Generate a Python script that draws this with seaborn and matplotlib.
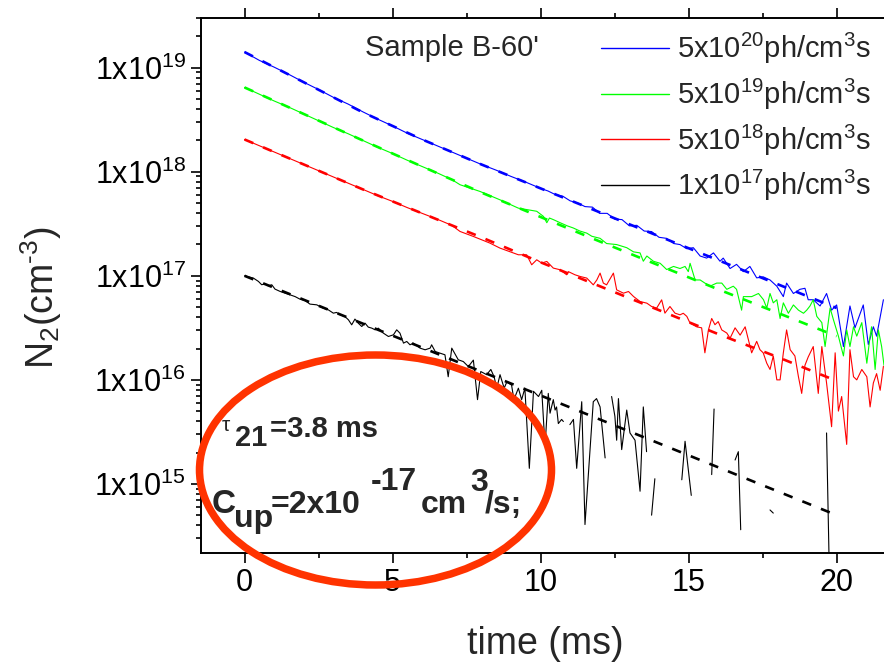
import numpy as np
import pandas as pd
import matplotlib
matplotlib.use("Agg")
import matplotlib.pyplot as plt
import seaborn as sns
from matplotlib.patches import Ellipse
from matplotlib.ticker import MultipleLocator, LogLocator, FuncFormatter, NullFormatter, FixedLocator

# ---------------- data (log10 of N2 in cm^-3, time in ms) ----------------
series_labels = [r"5x10$^{20}$ph/cm$^{3}$s", r"5x10$^{19}$ph/cm$^{3}$s",
                 r"5x10$^{18}$ph/cm$^{3}$s", r"1x10$^{17}$ph/cm$^{3}$s"]
series_colors = ["#0000ff", "#00ff00", "#ff0000", "#000000"]

blue_t = [0, 0.5, 1, 1.5, 2, 2.5, 3, 3.5, 4, 4.5, 5, 5.5, 6, 6.5, 7, 7.5, 8, 8.5, 9, 9.5, 10,
          10.25, 10.5, 10.75, 11, 11.25, 11.5, 11.75, 12, 12.25, 12.5, 12.75, 13, 13.25, 13.5, 13.75, 14, 14.25, 14.5,
          14.71, 14.94, 15.16, 15.39, 15.61, 15.84, 16.06, 16.17, 16.40, 16.62,
          16.85, 17.07, 17.30, 17.52, 17.75, 17.98, 18.20, 18.31, 18.54, 18.76,
          18.93, 19.04, 19.21, 19.44, 19.66, 19.83, 20.00, 20.23, 20.45, 20.62,
          20.90, 21.07, 21.24, 21.35, 21.58]
blue_log = [19.15, 19.07, 19.005, 18.935, 18.86, 18.79, 18.715, 18.65, 18.575, 18.505, 18.44, 18.37, 18.31, 18.25,
            18.19, 18.13, 18.07, 18.015, 17.955, 17.90, 17.84,
            17.815, 17.78, 17.765, 17.72, 17.70, 17.665, 17.66, 17.60, 17.60, 17.545, 17.54, 17.48, 17.485, 17.43,
            17.425, 17.37, 17.36, 17.31,
            17.30, 17.26, 17.27, 17.19, 17.17, 17.22, 17.14, 17.17, 17.07, 17.11,
            17.04, 17.09, 16.98, 16.99, 16.96, 16.90, 16.80, 16.93, 16.83, 16.87,
            16.88, 16.77, 16.77, 16.71, 16.83, 16.67, 16.72, 16.32, 16.71, 16.50,
            16.72, 16.34, 16.51, 16.42, 16.77]

green_t = [0, 0.5, 1, 1.5, 2, 2.5, 3, 3.5, 4, 4.5, 5, 5.5, 6, 6.5, 7,
           7.28, 7.96, 8.63, 9.25, 9.87, 10.10, 10.21, 10.30, 10.43, 10.66, 10.9, 11.1, 11.33, 11.56, 11.73,
           12.01, 12.23, 12.57, 12.91, 13.14, 13.36, 13.47, 13.59, 13.81, 14.04, 14.26, 14.49,
           14.71, 14.88, 14.99, 15.05, 15.22, 15.39, 15.55, 15.72, 15.95, 16.12,
           16.29, 16.51, 16.62, 16.79, 16.85, 16.96, 17.13, 17.36, 17.53, 17.64,
           17.75, 17.86, 17.98, 18.09, 18.20, 18.37, 18.54, 18.71, 18.88, 18.99,
           19.10, 19.21, 19.33, 19.50, 19.61, 19.78, 19.89, 20.06, 20.23, 20.34,
           20.45, 20.57, 20.68, 20.85, 21.02, 21.13, 21.18, 21.30, 21.41, 21.52, 21.60]
green_log = [18.81, 18.745, 18.68, 18.62, 18.555, 18.49, 18.425, 18.365, 18.30, 18.235, 18.175, 18.11, 18.05,
             17.99, 17.925,
             17.875, 17.81, 17.73, 17.65, 17.62, 17.57, 17.51, 17.555, 17.54, 17.51, 17.48, 17.46, 17.43, 17.41,
             17.38, 17.36, 17.31, 17.30, 17.27, 17.23, 17.22, 17.14, 17.19, 17.14, 17.12, 17.06, 17.09,
             17.07, 17.09, 17.04, 17.12, 16.96, 16.96, 16.93, 16.90, 16.93, 16.93,
             16.87, 16.90, 16.87, 16.67, 16.80, 16.80, 16.80, 16.83, 16.77, 16.69,
             16.83, 16.74, 16.77, 16.59, 16.74, 16.64, 16.72, 16.67, 16.64, 16.67,
             16.71, 16.77, 16.61, 16.55, 16.32, 16.69, 16.58, 16.42, 16.23, 16.48,
             16.32, 16.51, 16.42, 16.55, 16.16, 16.42, 16.51, 16.10, 16.48, 16.32, 16.14]

red_t = [0, 0.5, 1, 1.5, 2, 2.5, 3, 3.5, 4, 4.5, 5, 5.5, 6, 6.5, 7,
         7.28, 7.73, 8.29, 8.63, 9.25, 9.53, 9.70, 9.87, 10.04, 10.21, 10.43, 10.66, 10.88, 10.94, 11.16,
         11.33, 11.56, 11.78, 11.90, 12.01, 12.12, 12.23, 12.46, 12.57, 12.80, 12.97, 13.14, 13.36, 13.59,
         13.75, 13.92, 14.09, 14.20, 14.37, 14.54,
         14.71, 14.82, 14.94, 15.05, 15.27, 15.44, 15.55, 15.67, 15.78, 15.89,
         16.00, 16.12, 16.29, 16.40, 16.57, 16.74, 16.91, 17.02, 17.13, 17.30,
         17.41, 17.52, 17.64, 17.75, 17.86, 17.98, 18.09, 18.20, 18.31, 18.43,
         18.59, 18.71, 18.82, 18.93, 19.04, 19.21, 19.38, 19.50, 19.66, 19.83,
         19.95, 20.06, 20.17, 20.34, 20.45, 20.57, 20.68, 20.85, 21.02, 21.13,
         21.24, 21.35, 21.47, 21.58]
red_log = [18.31, 18.25, 18.19, 18.13, 18.07, 18.01, 17.95, 17.89, 17.83, 17.77, 17.715, 17.655, 17.60, 17.545,
           17.485,
           17.426, 17.378, 17.314, 17.266, 17.202, 17.202, 17.106, 17.154, 17.122, 17.138, 17.074, 17.058, 17.01,
           17.04, 17.01, 16.994, 16.978, 16.913, 16.96, 17.026, 16.93, 16.913, 17.026, 16.865, 16.833, 16.849,
           16.801, 16.753, 16.737, 16.705, 16.689, 16.769, 16.641, 16.705, 16.641,
           16.625, 16.64, 16.61, 16.545, 16.51, 16.50, 16.26, 16.48, 16.59, 16.53,
           16.56, 16.48, 16.45, 16.40, 16.50, 16.43, 16.51, 16.385, 16.26, 16.37,
           16.29, 16.26, 16.16, 16.10, 16.23, 16.00, 16.00, 16.26, 16.48, 16.29,
           16.23, 16.03, 15.87, 16.14, 16.22, 16.32, 15.87, 16.32, 15.97, 15.55,
           16.26, 15.70, 15.84, 15.38, 16.29, 16.03, 16.00, 16.10, 16.03, 15.74,
           15.97, 16.06, 15.90, 16.13]

nan = float("nan")
black_t = [0.00, 0.30, 0.47, 0.58, 0.69, 0.80, 0.92, 1.03, 1.20, 1.37, 1.54, 1.71, 1.87, 2.04, 2.21, 2.44,
           2.66, 2.83, 3.00, 3.11, 3.23, 3.39, 3.51, 3.62, 3.73, 3.84, 3.96, 4.07, 4.18, 4.30, 4.41, 4.52,
           4.69, 4.86, 5.03, 5.14, 5.25, 5.37, 5.48, 5.59, 5.70, 5.93, 6.10, 6.27, 6.32, 6.44, 6.60, 6.77,
           6.88, 7.00, 7.22, 7.39, 7.56, 7.73, 7.87, 7.98, 8.18, 8.32, 8.43, 8.52, 8.63, 8.77, 8.86, 9.02,
           9.10, 9.25, 9.36, 9.47, 9.62, 9.76, 9.93,
           10.04, 10.15, 10.26, 10.32, 10.43, 10.49, 10.54, 10.60, 10.71, 10.77, 10.88, 10.99, 11.11, 11.22,
           11.39, 11.50, 11.78, 11.89, 12.01, 12.18, 12.30, 12.40, 12.51, 12.57, 12.63, 12.74, 12.91, 13.02,
           13.19, 13.36, 13.47, 13.58, 13.68, 13.75, 13.86, 14.00, 14.77, 14.88, 15.09, 15.20, 15.78, 15.86,
           16.00, 16.57, 16.68, 16.76, 16.90, 17.75, 17.86, 18.00, 19.66, 19.75]
black_log = [17.00, 16.978, 16.946, 16.914, 16.923, 16.904, 16.914, 16.872, 16.85, 16.833, 16.817, 16.80,
             16.776, 16.763, 16.728, 16.721, 16.689, 16.673, 16.641, 16.648, 16.625, 16.609, 16.577, 16.529,
             16.584, 16.545, 16.513, 16.545, 16.507, 16.497, 16.481, 16.497, 16.449, 16.417, 16.433, 16.481,
             16.449, 16.353, 16.369, 16.337, 16.353, 16.305, 16.289, 16.305, 16.337, 16.273, 16.257, 16.241,
             16.03, 16.305, 16.193, 16.176, 16.128, 16.19, 15.81, 16.08, 16.05, 16.10, 16.03, 15.92, 16.05,
             15.92, 15.98, 15.95, 15.81, 15.92, 15.81, 15.92, 15.15, 15.89, 15.84,
             15.90, 15.36, 15.87, 15.68, 15.81, 15.71, 15.74, 15.58, 15.62, 15.60, nan, 15.57, 15.62, 15.15,
             15.79, 14.61, 15.79, 15.82, 15.74, 15.25, nan, 15.84, 15.65, 15.42, 15.82, 15.33, 15.71, 15.49,
             15.42, 14.93, 15.74, 15.31, nan, 14.70, 15.05, nan, 15.04, 15.41, 14.89, nan, 15.09, 15.72,
             nan, 15.23, 15.31, 14.56, nan, 14.75, 14.72, nan, 15.49, 14.20]

fit_t = [0, 2, 4, 6, 8, 10, 12, 14, 16, 18, 20]
blue_fit = [19.15, 18.86, 18.57, 18.31, 18.07, 17.84, 17.61, 17.38, 17.15, 16.92, 16.69]
green_fit = [18.81, 18.555, 18.30, 18.05, 17.80, 17.565, 17.33, 17.10, 16.87, 16.645, 16.42]
red_fit = [18.31, 18.07, 17.83, 17.60, 17.37, 17.13, 16.90, 16.67, 16.44, 16.22, 15.99]
black_fit = [17.00, 16.77, 16.54, 16.31, 16.08, 15.85, 15.62, 15.39, 15.16, 14.93, 14.70]

# ---------------- build tables ----------------
frames, fit_frames = [], []
for lab, t, lg in zip(series_labels, [blue_t, green_t, red_t, black_t],
                      [blue_log, green_log, red_log, black_log]):
    d = pd.DataFrame({"t": t, "lg": lg})
    d["seg"] = d["lg"].isna().cumsum()
    d = d.dropna()
    d["N"] = 10.0 ** d["lg"]
    d["series"] = lab
    d["unit"] = lab + "_" + d["seg"].astype(str)
    frames.append(d)
for lab, fv in zip(series_labels, [blue_fit, green_fit, red_fit, black_fit]):
    fd = pd.DataFrame({"t": fit_t, "N": 10.0 ** np.array(fv)})
    fd["series"] = lab
    fit_frames.append(fd)
data = pd.concat(frames, ignore_index=True)
fits = pd.concat(fit_frames, ignore_index=True)
palette = dict(zip(series_labels, series_colors))

# ---------------- style ----------------
sns.set_style("ticks")
plt.rcParams["font.family"] = ["Liberation Sans", "DejaVu Sans"]
plt.rcParams["mathtext.fontset"] = "custom"
plt.rcParams["mathtext.rm"] = "Liberation Sans"
plt.rcParams["mathtext.it"] = "Liberation Sans:italic"
plt.rcParams["mathtext.bf"] = "Liberation Sans:bold"
plt.rcParams["axes.unicode_minus"] = False

W, H = 884, 671
fig = plt.figure(figsize=(W / 100, H / 100), dpi=100)
fig.patch.set_facecolor("white")
ax = fig.add_axes([201 / W, 1 - 553 / H, (W - 201) / W, (553 - 18) / H])

sns.lineplot(data=data, x="t", y="N", hue="series", units="unit", estimator=None, sort=False,
             hue_order=series_labels, palette=palette, lw=0.8, ax=ax, legend=True)
sns.lineplot(data=fits, x="t", y="N", hue="series", estimator=None, sort=False,
             hue_order=series_labels, palette=palette, lw=1.9, linestyle=(0, (3.6, 4.0)),
             ax=ax, legend=False)

ax.set_yscale("log")
ax.set_xlim(-1.47, 21.6)
ax.set_ylim(2.17e14, 3.0e19)

ax.xaxis.set_major_locator(FixedLocator([0, 5, 10, 15, 20]))
ax.xaxis.set_minor_locator(MultipleLocator(2.5))
ax.yaxis.set_major_locator(LogLocator(base=10, numticks=20))
ax.yaxis.set_minor_locator(LogLocator(base=10, subs=np.arange(2, 10), numticks=50))
ax.yaxis.set_major_formatter(FuncFormatter(lambda v, p: r"1x10$^{%d}$" % int(round(np.log10(v)))))
ax.yaxis.set_minor_formatter(NullFormatter())
ax.xaxis.set_major_formatter(FuncFormatter(lambda v, p: "%d" % v))

ax.tick_params(which="both", direction="out", width=1.2, colors="black", labelsize=22, pad=4,
               top=True, right=False, labeltop=False)
ax.tick_params(which="major", length=7)
ax.tick_params(which="minor", length=3.6)
for side in ["left", "bottom", "top"]:
    ax.spines[side].set_linewidth(1.4)
    ax.spines[side].set_color("black")
ax.spines["right"].set_visible(False)

ax.set_xlabel("time (ms)", fontsize=27)
ax.set_ylabel(r"N$_{2}$(cm$^{\text{-}3}$)", fontsize=27)
ax.xaxis.set_label_coords((545 - 201) / 683, (553 - 626) / 535)
ax.yaxis.set_label_coords((64 - 201) / 683, (553 - 298) / 535)

handles, labels = ax.get_legend_handles_labels()
for h in handles:
    h.set_linewidth(1.0)
leg = ax.legend(handles, labels, loc="upper left", bbox_to_anchor=(601 / W, 1 - 31 / H),
                bbox_transform=fig.transFigure, frameon=False, fontsize=21, handlelength=2.33,
                handletextpad=0.27, labelspacing=0.36, borderpad=0, borderaxespad=0)


def px(x, y):
    return x / W, 1 - y / H


fig.text(*px(365, 56), "Sample B-60'", fontsize=21, va="baseline", ha="left")

# annotation inside the ellipse
fig.text(*px(222, 431), "\u03c4", fontsize=15, va="baseline", ha="left")
fig.text(*px(235, 446), "21", fontsize=21, fontweight="bold", va="baseline", ha="left")
fig.text(*px(270, 437), "=3.8 ms", fontsize=21, fontweight="bold", va="baseline", ha="left")

fig.text(*px(212, 513), "C", fontsize=24, fontweight="bold", va="baseline", ha="left")
fig.text(*px(234, 527), "up", fontsize=23, fontweight="bold", va="baseline", ha="left")
fig.text(*px(271, 513), "=2x10", fontsize=23, fontweight="bold", va="baseline", ha="left")
fig.text(*px(371, 490), "-17", fontsize=23, fontweight="bold", va="baseline", ha="left")
fig.text(*px(421, 513), "cm", fontsize=23, fontweight="bold", va="baseline", ha="left")
fig.text(*px(470, 491), "3", fontsize=23, fontweight="bold", va="baseline", ha="left")
fig.text(*px(485, 513), "/s;", fontsize=23, fontweight="bold", va="baseline", ha="left")

ell = Ellipse(px(375.5, 470), width=352 / W, height=230 / H, transform=fig.transFigure,
              fill=False, edgecolor="#ff3300", lw=5.4, zorder=20, clip_on=False)
fig.add_artist(ell)

fig.savefig("out.png", dpi=100)
